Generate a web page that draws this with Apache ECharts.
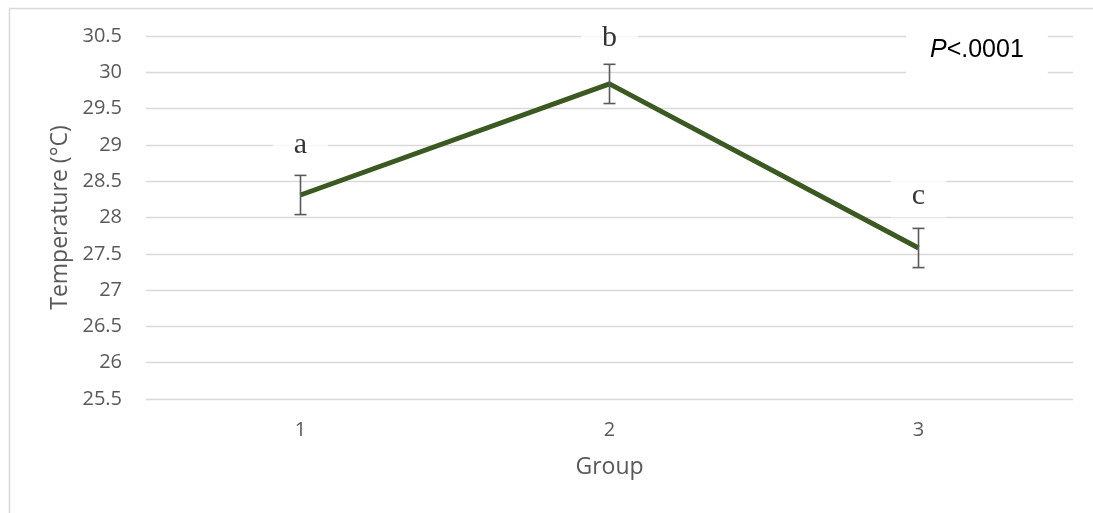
<!DOCTYPE html>
<html>
<head>
<meta charset="utf-8">
<script src="https://cdn.jsdelivr.net/npm/echarts@6/dist/echarts.min.js"></script>
<style>
html,body{margin:0;padding:0;background:#fff;}
#chart{width:1093px;height:513px;}
</style>
</head>
<body>
<div id="chart"></div>
<script>
// ---- data ----
var categories = ['1', '2', '3'];
var meanTemp = [28.31, 29.84, 27.58];
var errTemp = [0.27, 0.27, 0.27];
var letters = ['a', 'b', 'c'];
var letterValues = [29.0, 30.47, 28.29];
var yTicks = { min: 25.5, max: 30.5, interval: 0.5 };
var pText = '<.0001';

var chart = echarts.init(document.getElementById('chart'));
var sansFont = '"Open Sans", "Noto Sans", sans-serif';

var errData = categories.map(function (c, i) {
  return [i, meanTemp[i] - errTemp[i], meanTemp[i] + errTemp[i]];
});
var letterData = categories.map(function (c, i) {
  return { value: [i, letterValues[i]], name: letters[i] };
});

chart.setOption({
  animation: false,
  backgroundColor: '#fff',
  grid: { left: 146, right: 20, top: 36, bottom: 114, containLabel: false },
  xAxis: {
    type: 'category',
    data: categories,
    boundaryGap: true,
    axisLine: { show: false },
    axisTick: { show: false },
    axisLabel: { color: '#595959', fontFamily: sansFont, fontSize: 20, margin: 21 },
    name: 'Group',
    nameLocation: 'middle',
    nameGap: 57,
    nameTextStyle: { color: '#595959', fontFamily: sansFont, fontSize: 23 }
  },
  yAxis: {
    type: 'value',
    min: yTicks.min,
    max: yTicks.max,
    interval: yTicks.interval,
    axisLine: { show: false },
    axisTick: { show: false },
    splitLine: { lineStyle: { color: '#d9d9d9', width: 1.4 } },
    axisLabel: { color: '#595959', fontFamily: sansFont, fontSize: 20, margin: 24 },
    name: 'Temperature (°C)',
    nameLocation: 'middle',
    nameGap: 74,
    nameTextStyle: { color: '#595959', fontFamily: sansFont, fontSize: 23 }
  },
  graphic: [
    {
      type: 'rect',
      left: 7, top: 6,
      shape: { width: 1200, height: 600 },
      style: { fill: 'none', stroke: '#d9d9d9', lineWidth: 1.5 },
      silent: true, z: -1
    },
    {
      type: 'text',
      left: 906, top: 18,
      style: {
        text: '{i|P}' + pText,
        fill: '#000',
        font: '25px "Liberation Sans", Arial, sans-serif',
        backgroundColor: '#fff',
        padding: [20, 24, 20, 24],
        rich: { i: { fontStyle: 'italic', fontSize: 25, fontFamily: '"Liberation Sans", Arial, sans-serif', fill: '#000' } }
      },
      z: 10
    }
  ],
  series: [
    {
      type: 'line',
      data: meanTemp,
      symbol: 'none',
      lineStyle: { color: '#3b5a22', width: 5 },
      z: 3
    },
    {
      type: 'custom',
      data: errData,
      z: 4,
      renderItem: function (params, api) {
        var x = api.value(0);
        var lo = api.coord([x, api.value(1)]);
        var hi = api.coord([x, api.value(2)]);
        var hw = 6;
        var st = { stroke: '#595959', lineWidth: 1.6 };
        return {
          type: 'group',
          children: [
            { type: 'line', shape: { x1: lo[0], y1: lo[1], x2: hi[0], y2: hi[1] }, style: st },
            { type: 'line', shape: { x1: lo[0] - hw, y1: lo[1], x2: lo[0] + hw, y2: lo[1] }, style: st },
            { type: 'line', shape: { x1: hi[0] - hw, y1: hi[1], x2: hi[0] + hw, y2: hi[1] }, style: st }
          ]
        };
      }
    },
    {
      type: 'scatter',
      data: letterData,
      symbolSize: 0,
      z: 6,
      label: {
        show: true,
        position: 'inside',
        formatter: function (p) { return p.name; },
        color: '#000',
        fontFamily: '"Liberation Serif", "Times New Roman", serif',
        fontSize: 30,
        backgroundColor: '#fff',
        padding: [6, 21, 6, 21]
      }
    }
  ]
});
</script>
</body>
</html>
